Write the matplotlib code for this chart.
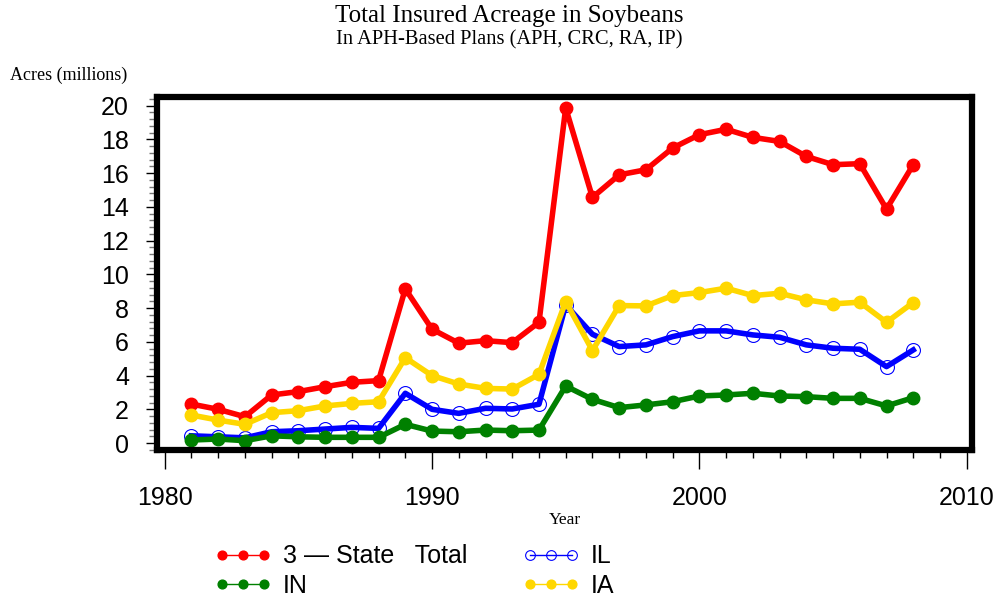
import numpy as np
import matplotlib
matplotlib.use('Agg')
import matplotlib.pyplot as plt
from matplotlib.ticker import MultipleLocator

years = list(range(1981, 2009))
total = [2.31, 2.00, 1.56, 2.85, 3.05, 3.34, 3.60, 3.70, 9.14, 6.75, 5.92, 6.07, 5.95, 7.16,
         19.86, 14.56, 15.90, 16.20, 17.49, 18.28, 18.60, 18.12, 17.88, 16.99, 16.50, 16.56, 13.87, 16.50]
il = [0.43, 0.37, 0.31, 0.67, 0.73, 0.83, 0.93, 0.87, 2.95, 2.00, 1.76, 2.06, 2.02, 2.30,
      8.19, 6.45, 5.72, 5.82, 6.31, 6.65, 6.65, 6.41, 6.27, 5.82, 5.62, 5.56, 4.53, 5.52]
ia = [1.66, 1.36, 1.11, 1.80, 1.92, 2.20, 2.35, 2.45, 5.06, 4.00, 3.50, 3.24, 3.20, 4.07,
      8.39, 5.48, 8.15, 8.13, 8.74, 8.92, 9.18, 8.74, 8.88, 8.49, 8.25, 8.35, 7.16, 8.33]
in_ = [0.18, 0.24, 0.14, 0.43, 0.37, 0.34, 0.34, 0.34, 1.11, 0.71, 0.67, 0.77, 0.73, 0.77,
       3.38, 2.59, 2.10, 2.26, 2.45, 2.79, 2.85, 2.95, 2.79, 2.75, 2.65, 2.65, 2.20, 2.69]

fig = plt.figure(figsize=(9.98, 5.97), dpi=100)
ax = fig.add_axes([0.157, 0.246, 0.817, 0.592])

sans = 'Liberation Sans'
serif = 'Liberation Serif'

l_tot, = ax.plot(years, total, color='#ff0000', lw=4, marker='o', ms=9)
l_il, = ax.plot(years, il, color='#0000ff', lw=4, marker='o', ms=10,
                mfc='none', mec='#0000ff', mew=0.8)
l_ia, = ax.plot(years, ia, color='#ffd700', lw=4, marker='o', ms=9)
l_in, = ax.plot(years, in_, color='#008000', lw=4, marker='o', ms=9)

ax.set_xlim(1979.7, 2010.2)
ax.set_ylim(-0.42, 20.53)
ax.xaxis.set_major_locator(MultipleLocator(10))
ax.xaxis.set_minor_locator(MultipleLocator(1))
ax.yaxis.set_major_locator(MultipleLocator(2))
ax.yaxis.set_minor_locator(MultipleLocator(0.4))
ax.tick_params(axis='x', which='major', direction='out', length=14, width=1, pad=12)
ax.tick_params(axis='x', which='minor', direction='out', length=6, width=1)
ax.tick_params(axis='y', which='major', direction='out', length=8, width=1, pad=12)
ax.tick_params(axis='y', which='minor', direction='out', length=6, width=1, color='#777777')
for lab in ax.get_xticklabels() + ax.get_yticklabels():
    lab.set_family(sans)
    lab.set_fontsize(18)
for sp in ax.spines.values():
    sp.set_linewidth(4.5)

fig.text(0.51, 0.973, 'Total Insured Acreage in Soybeans', ha='center', va='center',
         family=serif, fontsize=18)
fig.text(0.51, 0.934, 'In APH-Based Plans (APH, CRC, RA, IP)', ha='center', va='center',
         family=serif, fontsize=14.8)
fig.text(0.01, 0.874, 'Acres (millions)', ha='left', va='center', family=serif, fontsize=13)
fig.text(0.566, 0.129, 'Year', ha='center', va='center', family=serif, fontsize=12.5)

leg = fig.legend([l_tot, l_in, l_il, l_ia], ['3 — State   Total', 'IN', 'IL', 'IA'],
                 ncol=2, loc='upper left', bbox_to_anchor=(0.202, 0.109),
                 frameon=False, numpoints=3, handlelength=2.3, markerscale=0.7,
                 prop={'family': sans, 'size': 18}, columnspacing=2.2,
                 labelspacing=0.22, handletextpad=0.45, borderpad=0)
for h in leg.legend_handles:
    h.set_linewidth(1)

fig.savefig('out.png', dpi=100)
